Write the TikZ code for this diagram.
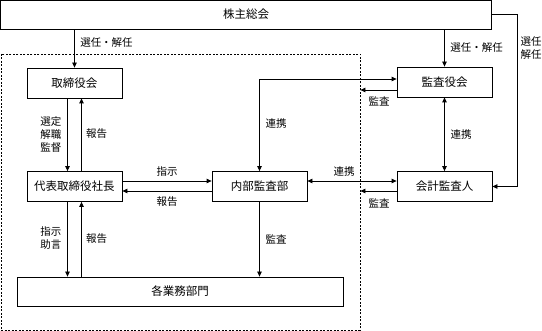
\documentclass[tikz,border=0pt]{standalone}
\usepackage{fontspec}
\setmainfont{Noto Sans CJK JP}
\usepackage{tikz}
\usetikzlibrary{arrows.meta, positioning}

\begin{document}
\begin{tikzpicture}[x=1pt, y=-1pt, line width=0.8pt,
    box/.style={draw, minimum width=95pt, minimum height=30pt, inner sep=0pt,
        font=\fontsize{11.5pt}{13pt}\selectfont},
    lbl/.style={inner sep=0pt, align=center, font=\fontsize{10.5pt}{13pt}\selectfont},
    arr/.style={-{Triangle[length=5pt, width=4.5pt]}},
    arrs/.style={{Triangle[length=5pt, width=4.5pt]}-{Triangle[length=5pt, width=4.5pt]}},
    grpbox/.style={draw, dash pattern=on 2pt off 1.5pt, inner sep=0pt}]
    \useasboundingbox (0,0) rectangle (542,331);

    % 株主総会
    \node[box, minimum width=491pt, minimum height=29pt] (top) at (246,14.5) {株主総会};

    % 点線の枠
    \node[grpbox, minimum width=359pt, minimum height=276pt] (grp) at (180.5,192) {};

    % 各ボックス
    \node[box] (tori) at (74.5,83) {取締役会};
    \node[box] (kansayaku) at (444.5,82) {監査役会};
    \node[box] (shacho) at (74.5,186.5) {代表取締役社長};
    \node[box] (naibu) at (259.5,186.5) {内部監査部};
    \node[box] (kaikei) at (444.5,186.5) {会計監査人};
    \node[box, minimum width=326pt, minimum height=29pt] (gyomu) at (180,291.5) {各業務部門};

    % 株主総会から
    \draw[arr] (tori.north |- top.south) -- (tori.north);
    \node[lbl] at (106.5,43) {選任・解任};
    \draw[arr] (kansayaku.north |- top.south) -- (kansayaku.north);
    \node[lbl] at (476.5,48) {選任・解任};
    \draw[arr] (top.east) -- ++(25,0) |- (kaikei.east);
    \node[lbl] at (531,48.5) {選任\\解任};

    % 取締役会と社長
    \draw[arr] ([xshift=-7pt]tori.south) -- ([xshift=-7pt]shacho.north);
    \draw[arr] ([xshift=7pt]shacho.north) -- ([xshift=7pt]tori.south);
    \node[lbl] at (51,135) {選定\\解職\\監督};
    \node[lbl] at (96.5,134) {報告};

    % 社長と内部監査部
    \draw[arr] ([yshift=5.5pt]shacho.east) -- ([yshift=5.5pt]naibu.west);
    \draw[arr] ([yshift=-4.5pt]naibu.west) -- ([yshift=-4.5pt]shacho.east);
    \node[lbl] at (167,171.5) {指示};
    \node[lbl] at (167,202) {報告};

    % 社長と各業務部門
    \draw[arr] ([xshift=-7pt]shacho.south) -- ([xshift=-7pt]shacho.south |- gyomu.north);
    \draw[arr] ([xshift=7pt]shacho.south |- gyomu.north) -- ([xshift=7pt]shacho.south);
    \node[lbl] at (51,238.5) {指示\\助言};
    \node[lbl] at (96.5,239) {報告};

    % 内部監査部から
    \draw[arr] (naibu.south) -- (naibu.south |- gyomu.north);
    \node[lbl] at (276,239) {監査};

    % 監査役会と内部監査部
    \draw[arrs] ([yshift=3pt]kansayaku.west) -| (naibu.north);
    \node[lbl] at (276,124) {連携};
    \draw[arr] ([yshift=-8pt]kansayaku.west) -- ([yshift=-8pt]kansayaku.west -| grp.east);
    \node[lbl] at (379,101) {監査};

    % 会計監査人
    \draw[arrs] ([yshift=5.5pt]naibu.east) -- ([yshift=5.5pt]kaikei.west);
    \node[lbl] at (344,171.5) {連携};
    \draw[arr] ([yshift=-4.5pt]kaikei.west) -- ([yshift=-4.5pt]kaikei.west -| grp.east);
    \node[lbl] at (379,203) {監査};
    \draw[arrs] (kansayaku.south) -- (kaikei.north);
    \node[lbl] at (461,135) {連携};
\end{tikzpicture}
\end{document}
